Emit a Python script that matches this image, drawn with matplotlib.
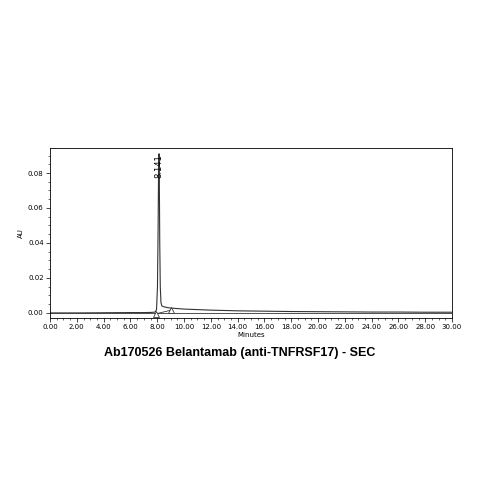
import matplotlib
matplotlib.use("Agg")
import matplotlib.pyplot as plt

# chromatogram trace
minutes = [0.0, 2.0, 4.0, 6.0, 7.0, 7.6, 7.85, 7.95, 8.02, 8.07, 8.10, 8.13, 8.141, 8.16,
           8.19, 8.23, 8.28, 8.35, 8.5, 8.8, 9.0, 10.0, 12.0, 14.0, 16.0, 18.0, 20.0,
           22.0, 24.0, 26.0, 28.0, 30.0]
au = [0.0, 0.0, 0.0001, 0.0002, 0.0002, 0.0003, 0.0005, 0.002, 0.015, 0.050, 0.080, 0.090,
      0.091, 0.075, 0.040, 0.015, 0.006, 0.004, 0.0035, 0.003, 0.0028, 0.0022, 0.0016,
      0.0012, 0.0010, 0.0008, 0.0007, 0.0006, 0.0005, 0.0005, 0.0004, 0.0004]
base_x = [7.9, 9.0]
base_y = [-0.0005, 0.0015]
peak_rt = 8.141

fig = plt.figure(figsize=(4.79, 4.79), dpi=100)
ax = fig.add_axes([50 / 479, 1 - 318 / 479, 402 / 479, 170 / 479])
ax.plot(minutes, au, color="#333333", linewidth=0.8)
ax.axhline(0, color="#333333", linewidth=0.6)
ax.plot(base_x, base_y, color="#333333", linewidth=0.6)
ax.plot(base_x, base_y, linestyle="none", marker="^", markersize=5,
        markerfacecolor="white", markeredgecolor="#333333", markeredgewidth=0.6)
ax.text(peak_rt, 0.084, "8.141", rotation=90, ha="center", va="center", fontsize=6)

ax.set_xlim(0, 30)
ax.set_ylim(-0.0029, 0.0943)
ax.set_xticks([i * 2 for i in range(16)])
ax.set_xticklabels([f"{i * 2:.2f}" for i in range(16)], fontsize=5)
ax.set_xticks([i * 0.5 for i in range(61)], minor=True)
ax.set_yticks([0, 0.02, 0.04, 0.06, 0.08])
ax.set_yticklabels(["0.00", "0.02", "0.04", "0.06", "0.08"], fontsize=5)
ax.set_yticks([i * 0.005 for i in range(19)], minor=True)
ax.tick_params(length=3, width=0.5, pad=1.5)
ax.tick_params(which="minor", length=1.5, width=0.4)
for s in ax.spines.values():
    s.set_linewidth(0.6)
ax.set_xlabel("Minutes", fontsize=5, labelpad=1)
ax.set_ylabel("AU", fontsize=5, labelpad=3)
fig.text(0.5, 1 - 353 / 479, "Ab170526 Belantamab (anti-TNFRSF17) - SEC",
         ha="center", va="center", fontsize=9, fontweight="bold",
         family="Liberation Sans")
fig.savefig("out.png", dpi=100)
